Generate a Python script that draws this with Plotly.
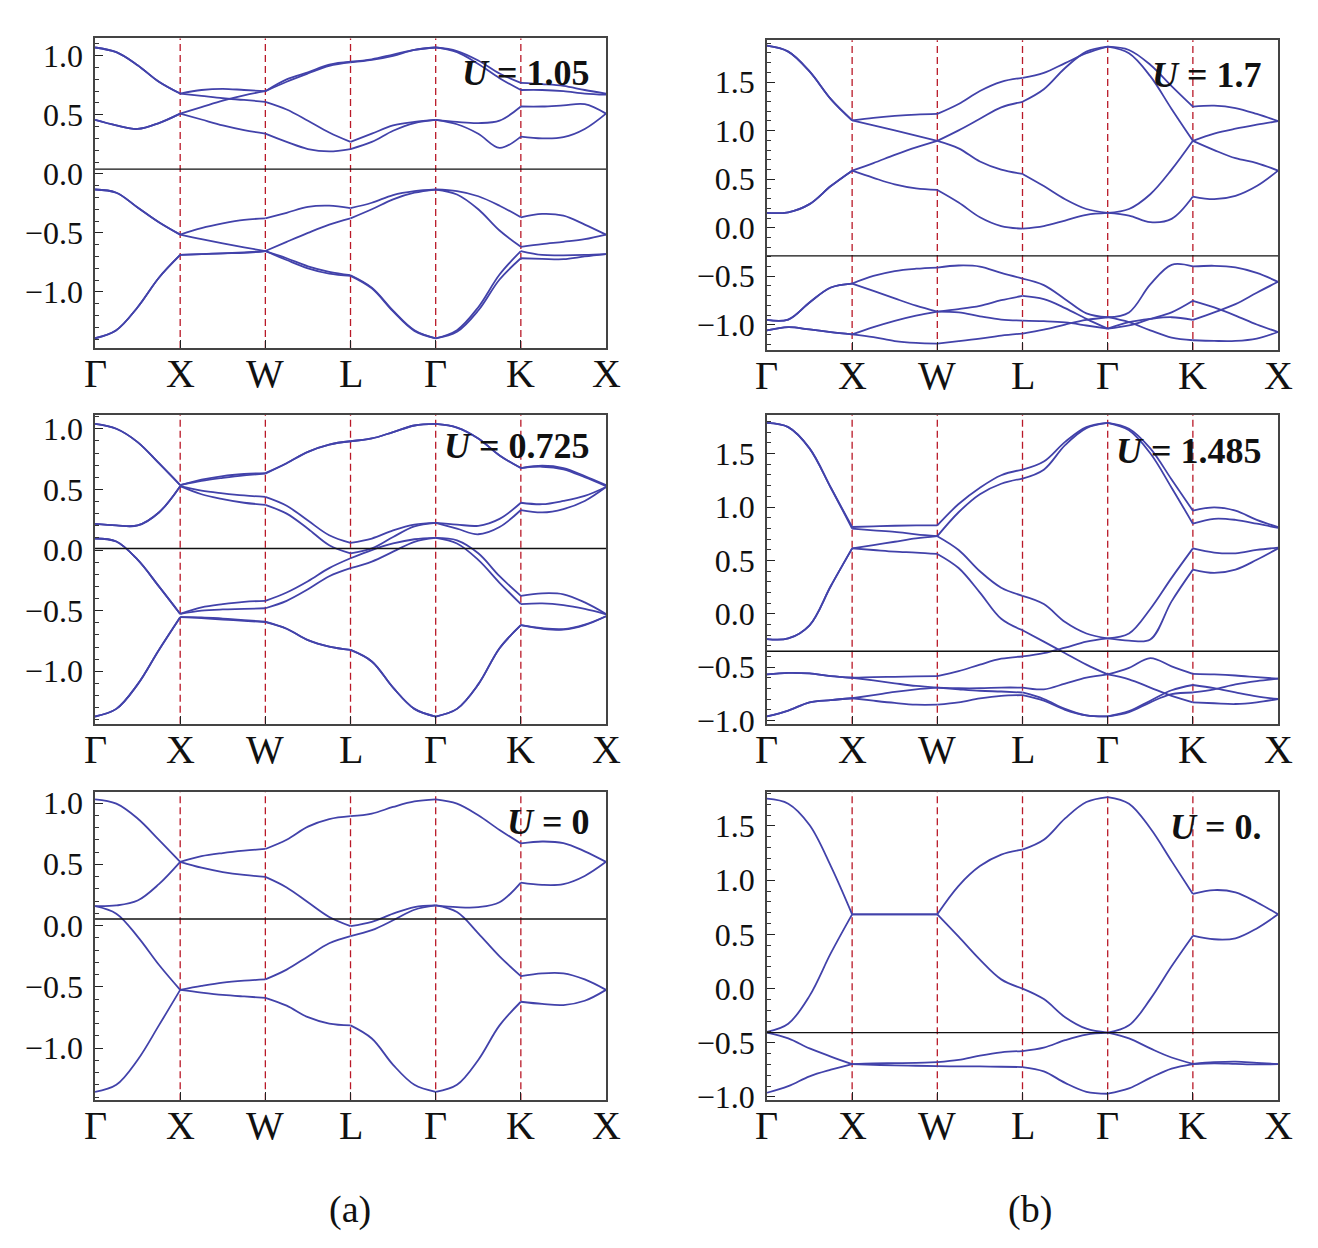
import plotly.graph_objects as go

# k-path sample positions (quarter steps between high-symmetry points)
K_PATH = [0, 0.25, 0.5, 0.75, 1, 1.25, 1.5, 1.75, 2, 2.25, 2.5, 2.75, 3,
          3.25, 3.5, 3.75, 4, 4.25, 4.5, 4.75, 5, 5.25, 5.5, 5.75, 6]
K_TICKS = [0, 1, 2, 3, 4, 5, 6]
K_LABELS = ["Γ", "X", "W", "L", "Γ", "K", "X"]

# (a) U = 1.05
BANDS_A1 = [
    [1.07, 1.03, 0.92, 0.78, 0.68, 0.71, 0.72, 0.71, 0.70, 0.80, 0.86, 0.925, 0.95,
     0.97, 1.01, 1.05, 1.07, 1.04, 0.96, 0.85, 0.77, 0.76, 0.745, 0.71, 0.68],
    [1.07, 1.03, 0.92, 0.78, 0.68, 0.66, 0.64, 0.626, 0.61, 0.545, 0.45, 0.35, 0.27,
     0.34, 0.41, 0.44, 0.457, 0.44, 0.43, 0.45, 0.57, 0.57, 0.58, 0.59, 0.51],
    [0.457, 0.41, 0.38, 0.43, 0.51, 0.565, 0.62, 0.665, 0.70, 0.78, 0.85, 0.915, 0.945,
     0.965, 1.0, 1.05, 1.07, 1.03, 0.93, 0.81, 0.71, 0.71, 0.70, 0.68, 0.67],
    [0.457, 0.41, 0.38, 0.43, 0.51, 0.46, 0.41, 0.37, 0.34, 0.27, 0.21, 0.19, 0.21,
     0.27, 0.365, 0.43, 0.457, 0.42, 0.34, 0.22, 0.315, 0.30, 0.31, 0.38, 0.51],
    [-0.133, -0.16, -0.285, -0.41, -0.515, -0.46, -0.42, -0.39, -0.377, -0.33, -0.28, -0.27, -0.29,
     -0.245, -0.18, -0.147, -0.133, -0.147, -0.19, -0.27, -0.368, -0.34, -0.355, -0.43, -0.515],
    [-0.133, -0.16, -0.285, -0.41, -0.515, -0.554, -0.59, -0.623, -0.654, -0.576, -0.5, -0.43, -0.377,
     -0.30, -0.216, -0.16, -0.133, -0.175, -0.30, -0.48, -0.618, -0.595, -0.576, -0.554, -0.515],
    [-1.393, -1.324, -1.13, -0.88, -0.687, -0.68, -0.673, -0.665, -0.654, -0.715, -0.784, -0.83, -0.859,
     -0.964, -1.158, -1.324, -1.393, -1.324, -1.13, -0.853, -0.654, -0.687, -0.69, -0.687, -0.68],
    [-1.393, -1.324, -1.13, -0.88, -0.687, -0.68, -0.673, -0.67, -0.654, -0.73, -0.80, -0.845, -0.864,
     -0.97, -1.166, -1.33, -1.393, -1.338, -1.158, -0.895, -0.715, -0.72, -0.723, -0.70, -0.68],
]

# (a) U = 0.725
BANDS_A2 = [
    [1.04, 1.0, 0.89, 0.716, 0.535, 0.58, 0.61, 0.627, 0.635, 0.716, 0.81, 0.87, 0.897,
     0.92, 0.973, 1.027, 1.04, 1.01, 0.92, 0.78, 0.676, 0.695, 0.676, 0.61, 0.535],
    [1.04, 1.0, 0.89, 0.716, 0.535, 0.57, 0.595, 0.616, 0.63, 0.716, 0.81, 0.87, 0.897,
     0.92, 0.973, 1.027, 1.04, 1.01, 0.92, 0.78, 0.676, 0.687, 0.665, 0.60, 0.527],
    [0.216, 0.203, 0.203, 0.31, 0.527, 0.49, 0.468, 0.45, 0.438, 0.365, 0.243, 0.122, 0.059,
     0.095, 0.162, 0.21, 0.224, 0.21, 0.20, 0.257, 0.39, 0.378, 0.405, 0.446, 0.52],
    [0.216, 0.203, 0.203, 0.31, 0.527, 0.46, 0.42, 0.39, 0.373, 0.30, 0.176, 0.04, -0.027,
     0.0135, 0.108, 0.195, 0.224, 0.176, 0.13, 0.19, 0.33, 0.31, 0.338, 0.405, 0.52],
    [0.095, 0.07, -0.08, -0.30, -0.527, -0.473, -0.446, -0.427, -0.419, -0.35, -0.257, -0.149, -0.068,
     0.0, 0.054, 0.089, 0.1, 0.08, -0.027, -0.216, -0.378, -0.357, -0.365, -0.432, -0.527],
    [0.095, 0.07, -0.08, -0.30, -0.527, -0.5, -0.49, -0.486, -0.48, -0.419, -0.324, -0.216, -0.149,
     -0.095, -0.0135, 0.068, 0.1, 0.054, -0.081, -0.27, -0.446, -0.44, -0.454, -0.486, -0.53],
    [-1.373, -1.31, -1.108, -0.824, -0.554, -0.562, -0.573, -0.584, -0.595, -0.649, -0.743, -0.797, -0.824,
     -0.919, -1.135, -1.31, -1.373, -1.31, -1.108, -0.81, -0.62, -0.649, -0.657, -0.62, -0.546],
    [-1.373, -1.31, -1.108, -0.824, -0.554, -0.555, -0.565, -0.578, -0.59, -0.649, -0.743, -0.797, -0.824,
     -0.919, -1.135, -1.31, -1.373, -1.31, -1.108, -0.81, -0.62, -0.645, -0.652, -0.615, -0.546],
]

# (a) U = 0
BANDS_A3 = [
    [1.03, 0.995, 0.874, 0.70, 0.52, 0.566, 0.592, 0.611, 0.625, 0.70, 0.807, 0.869, 0.893,
     0.914, 0.968, 1.013, 1.03, 0.995, 0.90, 0.78, 0.67, 0.686, 0.673, 0.606, 0.52],
    [0.158, 0.164, 0.204, 0.338, 0.52, 0.472, 0.437, 0.413, 0.397, 0.311, 0.19, 0.07, -0.005,
     0.03, 0.097, 0.15, 0.164, 0.15, 0.15, 0.19, 0.351, 0.332, 0.338, 0.405, 0.52],
    [0.158, 0.097, -0.09, -0.32, -0.525, -0.493, -0.466, -0.45, -0.44, -0.36, -0.252, -0.145, -0.086,
     -0.038, 0.043, 0.129, 0.164, 0.11, -0.064, -0.252, -0.413, -0.39, -0.39, -0.44, -0.525],
    [-1.357, -1.30, -1.097, -0.815, -0.525, -0.547, -0.566, -0.579, -0.59, -0.654, -0.748, -0.80, -0.815,
     -0.922, -1.137, -1.30, -1.357, -1.30, -1.097, -0.815, -0.622, -0.64, -0.649, -0.614, -0.525],
]

# (b) U = 1.7
BANDS_B1 = [
    [1.875, 1.814, 1.61, 1.324, 1.105, 1.132, 1.152, 1.166, 1.172, 1.274, 1.409, 1.503, 1.544,
     1.595, 1.696, 1.797, 1.865, 1.831, 1.679, 1.459, 1.247, 1.257, 1.233, 1.172, 1.098],
    [1.875, 1.814, 1.61, 1.324, 1.105, 1.054, 1.003, 0.949, 0.895, 1.003, 1.122, 1.24, 1.297,
     1.426, 1.645, 1.814, 1.865, 1.797, 1.561, 1.223, 0.895, 0.97, 1.02, 1.061, 1.098],
    [0.152, 0.159, 0.243, 0.429, 0.588, 0.666, 0.75, 0.828, 0.895, 0.818, 0.682, 0.598, 0.554,
     0.429, 0.294, 0.193, 0.152, 0.193, 0.345, 0.598, 0.895, 0.80, 0.716, 0.666, 0.588],
    [0.152, 0.159, 0.243, 0.429, 0.588, 0.514, 0.446, 0.405, 0.389, 0.26, 0.108, 0.017, -0.01,
     0.017, 0.074, 0.132, 0.152, 0.125, 0.057, 0.091, 0.321, 0.294, 0.328, 0.429, 0.588],
    [-0.95, -0.946, -0.77, -0.616, -0.575, -0.497, -0.446, -0.422, -0.41, -0.389, -0.40, -0.466, -0.524,
     -0.591, -0.736, -0.882, -0.922, -0.872, -0.584, -0.382, -0.399, -0.392, -0.409, -0.466, -0.557],
    [-0.95, -0.946, -0.77, -0.616, -0.575, -0.65, -0.728, -0.803, -0.864, -0.838, -0.804, -0.747, -0.703,
     -0.736, -0.828, -0.939, -1.04, -1.007, -0.939, -0.872, -0.753, -0.821, -0.905, -0.997, -1.074],
    [-1.058, -1.024, -1.048, -1.075, -1.098, -1.024, -0.959, -0.905, -0.864, -0.872, -0.912, -0.946, -0.956,
     -0.963, -0.976, -1.007, -1.04, -0.973, -0.939, -0.922, -0.95, -0.872, -0.787, -0.669, -0.557],
    [-1.058, -1.024, -1.048, -1.075, -1.098, -1.126, -1.167, -1.187, -1.194, -1.169, -1.142, -1.111, -1.09,
     -1.05, -0.997, -0.95, -0.922, -0.973, -1.057, -1.132, -1.159, -1.166, -1.166, -1.142, -1.074],
]

# (b) U = 1.485
BANDS_B2 = [
    [1.788, 1.748, 1.549, 1.181, 0.813, 0.819, 0.825, 0.828, 0.828, 1.028, 1.181, 1.298, 1.35,
     1.426, 1.61, 1.748, 1.788, 1.733, 1.549, 1.258, 0.966, 0.997, 0.966, 0.88, 0.813],
    [1.788, 1.748, 1.549, 1.181, 0.798, 0.782, 0.767, 0.745, 0.727, 0.951, 1.12, 1.218, 1.267,
     1.35, 1.58, 1.739, 1.788, 1.718, 1.503, 1.181, 0.844, 0.89, 0.88, 0.844, 0.804],
    [-0.236, -0.23, -0.107, 0.261, 0.613, 0.644, 0.675, 0.706, 0.727, 0.598, 0.399, 0.245, 0.169,
     0.092, -0.077, -0.184, -0.23, -0.184, 0.046, 0.337, 0.613, 0.574, 0.567, 0.598, 0.62],
    [-0.236, -0.23, -0.107, 0.261, 0.613, 0.598, 0.583, 0.574, 0.561, 0.429, 0.199, -0.046, -0.153,
     -0.26, -0.368, -0.475, -0.567, -0.506, -0.414, -0.491, -0.561, -0.567, -0.577, -0.592, -0.607],
    [-0.567, -0.552, -0.558, -0.583, -0.598, -0.592, -0.589, -0.586, -0.583, -0.537, -0.475, -0.42, -0.399,
     -0.368, -0.316, -0.26, -0.23, -0.25, -0.24, 0.117, 0.414, 0.383, 0.414, 0.506, 0.613],
    [-0.567, -0.552, -0.558, -0.583, -0.598, -0.623, -0.65, -0.675, -0.69, -0.696, -0.696, -0.69, -0.69,
     -0.706, -0.653, -0.598, -0.567, -0.613, -0.69, -0.767, -0.828, -0.837, -0.844, -0.828, -0.797],
    [-0.96, -0.905, -0.828, -0.807, -0.79, -0.761, -0.73, -0.706, -0.69, -0.706, -0.72, -0.727, -0.736,
     -0.797, -0.89, -0.951, -0.96, -0.911, -0.813, -0.715, -0.666, -0.696, -0.736, -0.773, -0.797],
    [-0.96, -0.905, -0.828, -0.807, -0.79, -0.813, -0.834, -0.85, -0.85, -0.828, -0.791, -0.767, -0.761,
     -0.813, -0.899, -0.951, -0.96, -0.92, -0.828, -0.752, -0.736, -0.706, -0.66, -0.629, -0.607],
]

# (b) U = 0.
BANDS_B3 = [
    [1.752, 1.706, 1.509, 1.13, 0.685, 0.685, 0.685, 0.685, 0.685, 0.948, 1.13, 1.236, 1.282,
     1.373, 1.57, 1.721, 1.767, 1.706, 1.479, 1.176, 0.873, 0.909, 0.888, 0.797, 0.685],
    [-0.4, -0.324, -0.067, 0.327, 0.685, 0.685, 0.685, 0.685, 0.685, 0.479, 0.267, 0.085, 0.0,
     -0.097, -0.264, -0.37, -0.406, -0.339, -0.097, 0.206, 0.488, 0.455, 0.464, 0.555, 0.685],
    [-0.406, -0.46, -0.552, -0.627, -0.697, -0.691, -0.688, -0.685, -0.679, -0.658, -0.618, -0.588, -0.576,
     -0.545, -0.476, -0.424, -0.406, -0.46, -0.552, -0.636, -0.694, -0.679, -0.673, -0.685, -0.697],
    [-0.961, -0.9, -0.809, -0.748, -0.697, -0.703, -0.709, -0.712, -0.715, -0.718, -0.718, -0.721, -0.724,
     -0.764, -0.87, -0.952, -0.97, -0.921, -0.824, -0.739, -0.697, -0.69, -0.695, -0.7, -0.697],
]

U_LABELS = ["1.05", "0.725", "0", "1.7", "1.485", "0."]
FERMI = [0.04, 0.013, 0.054, -0.29, -0.35, -0.406]

FONT = "Liberation Serif, Times New Roman, serif"
BAND_COLOR = "rgb(66,66,170)"
DASH_COLOR = "rgb(185,25,40)"

# panel geometry (paper fractions) and y ranges
panels = [
    dict(bands=BANDS_A1, xd=[0.0721, 0.4598], yd=[0.7212, 0.9736], yr=[-1.476, 1.147], uy=0.853),
    dict(bands=BANDS_A2, xd=[0.0721, 0.4598], yd=[0.4151, 0.6667], yr=[-1.432, 1.114], uy=0.862),
    dict(bands=BANDS_A3, xd=[0.0721, 0.4598], yd=[0.1082, 0.3598], yr=[-1.426, 1.094], uy=0.847),
    dict(bands=BANDS_B1, xd=[0.5819, 0.9697], yd=[0.7196, 0.9720], yr=[-1.26, 1.93], uy=1.578),
    dict(bands=BANDS_B2, xd=[0.5819, 0.9697], yd=[0.4151, 0.6667], yr=[-1.028, 1.862], uy=1.52),
    dict(bands=BANDS_B3, xd=[0.5819, 0.9697], yd=[0.1082, 0.3598], yr=[-1.03, 1.818], uy=1.494),
]

fig = go.Figure()
shapes = []
annotations = []
layout_axes = {}

for i, p in enumerate(panels, start=1):
    xa = "x" if i == 1 else f"x{i}"
    ya = "y" if i == 1 else f"y{i}"
    for band in p["bands"]:
        for s in range(6):
            fig.add_trace(go.Scatter(
                x=K_PATH[4 * s:4 * s + 5], y=band[4 * s:4 * s + 5],
                mode="lines", xaxis=xa, yaxis=ya, showlegend=False, hoverinfo="skip",
                line=dict(color=BAND_COLOR, width=1.8, shape="spline", smoothing=1.0)))

    layout_axes["xaxis" if i == 1 else f"xaxis{i}"] = dict(
        domain=p["xd"], anchor=ya, range=[0, 6],
        tickmode="array", tickvals=K_TICKS, showticklabels=False,
        ticks="inside", ticklen=8, tickwidth=1.3, tickcolor="#222",
        showline=True, linecolor="#444", linewidth=1.5, mirror=True,
        showgrid=False, zeroline=False)
    layout_axes["yaxis" if i == 1 else f"yaxis{i}"] = dict(
        domain=p["yd"], anchor=xa, range=p["yr"],
        tickmode="linear", tick0=0, dtick=0.5, tickformat=".1f",
        ticks="inside", ticklen=8, tickwidth=1.3, tickcolor="#222",
        minor=dict(dtick=0.1, tick0=0, ticks="inside", ticklen=4, tickwidth=1, tickcolor="#333"),
        showline=True, linecolor="#444", linewidth=1.5, mirror=True,
        showgrid=False, zeroline=False, ticklabelstandoff=4,
        tickfont=dict(family=FONT, size=32, color="#111"))

    for k in K_TICKS[1:-1]:
        shapes.append(dict(type="line", xref=xa, yref=f"{ya} domain", x0=k, x1=k, y0=0, y1=1,
                           line=dict(color=DASH_COLOR, width=1.3, dash="7px,4px"), layer="below"))
    shapes.append(dict(type="line", xref=f"{xa} domain", yref=ya, x0=0, x1=1,
                       y0=FERMI[i - 1], y1=FERMI[i - 1], line=dict(color="#111", width=1.4)))
    for k, lab in zip(K_TICKS, K_LABELS):
        annotations.append(dict(
            xref=xa, yref=f"{ya} domain", x=k, y=0, xanchor="center", yanchor="top",
            yshift=-1, text=lab, showarrow=False,
            font=dict(family=FONT, size=40, color="#111")))
    annotations.append(dict(
        xref=xa, yref=ya, x=5.84, y=p["uy"], xanchor="right", yanchor="middle",
        text=f"<b><i>U</i> = {U_LABELS[i - 1]}</b>", showarrow=False,
        font=dict(family=FONT, size=36, color="#111")))

annotations.append(dict(xref="paper", yref="paper", x=350 / 1318, y=1 - 1224 / 1248,
                        xanchor="center", yanchor="middle",
                        text="(a)", showarrow=False, font=dict(family=FONT, size=38, color="#111")))
annotations.append(dict(xref="paper", yref="paper", x=1030 / 1318, y=1 - 1224 / 1248,
                        xanchor="center", yanchor="middle",
                        text="(b)", showarrow=False, font=dict(family=FONT, size=38, color="#111")))

fig.update_layout(
    width=1318, height=1248,
    margin=dict(l=0, r=0, t=0, b=0),
    paper_bgcolor="white", plot_bgcolor="white",
    shapes=shapes, annotations=annotations,
    **layout_axes)

fig.write_html("out.html", config={"displayModeBar": False},
               post_script="document.body.style.margin='0';")
